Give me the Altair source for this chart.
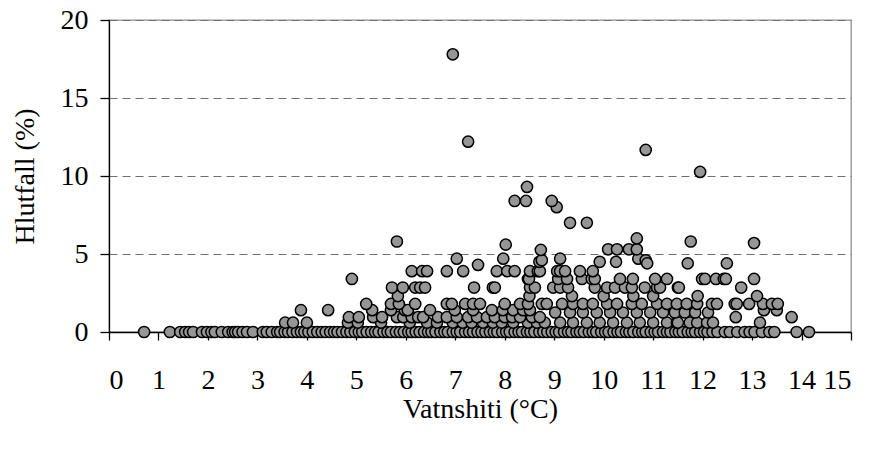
import altair as alt
import pandas as pd

# Water temperature (°C) of observations with zero loss
temp_zero = [0.71, 1.23, 1.44, 1.54, 1.62, 1.7, 1.88, 1.98, 2.07, 2.14, 2.28, 2.41, 2.5,
             2.55, 2.61, 2.7, 2.79, 2.91, 3.11, 3.19, 3.29, 3.4, 3.46, 3.55, 3.62, 3.71,
             3.8, 3.88, 3.95, 4.03, 4.12, 4.21, 4.3, 4.38, 4.47, 4.55, 4.62, 4.71, 4.8,
             4.88, 4.97, 5.05, 5.12, 5.21, 5.3, 5.38, 5.45, 5.55, 5.63, 5.7, 5.8, 5.88,
             5.96, 6.05, 6.12, 6.2, 6.28, 6.37, 6.45, 6.52, 6.6, 6.7, 6.78, 6.85, 6.95,
             7.03, 7.1, 7.2, 7.28, 7.36, 7.45, 7.53, 7.61, 7.7, 7.78, 7.85, 7.95, 8.03,
             8.1, 8.2, 8.28, 8.35, 8.45, 8.52, 8.6, 8.7, 8.78, 8.86, 8.95, 9.03, 9.1,
             9.2, 9.28, 9.35, 9.45, 9.52, 9.6, 9.7, 9.78, 9.85, 9.95, 10.03, 10.1, 10.2,
             10.28, 10.35, 10.45, 10.52, 10.6, 10.7, 10.78, 10.85, 10.95, 11.03, 11.1,
             11.2, 11.28, 11.35, 11.45, 11.52, 11.6, 11.7, 11.78, 11.85, 11.95, 12.03,
             12.1, 12.2, 12.3, 12.45, 12.55, 12.7, 12.85, 12.95, 13.05, 13.2, 13.35,
             13.45, 13.9, 14.15]

# Observations with low loss, grouped by loss level (%)
temp_06 = [3.56, 3.72, 4.0, 4.83, 5.03, 5.5, 6.08, 6.43, 6.63, 6.95, 7.15, 7.33, 7.56,
           7.76, 7.94, 8.17, 8.47, 8.65, 8.81, 9.12, 9.38, 9.66, 9.92, 10.19, 10.47,
           10.73, 11.0, 11.28, 11.48, 11.5, 11.74, 11.89, 12.09, 12.21, 13.16]
temp_09 = [4.85, 5.05, 5.34, 5.52, 5.82, 5.95, 6.12, 6.25, 6.35, 6.65, 6.83, 7.03, 7.26,
           7.44, 7.64, 7.8, 8.0, 8.15, 8.31, 8.55, 8.71, 12.67, 13.8]
temp_12 = [9.02, 9.32, 9.58, 9.86, 10.13, 10.39, 10.67, 10.94, 11.2, 11.44, 11.64,
           11.85, 12.11]
temp_14 = [3.88, 4.43, 5.32, 5.7, 5.98, 6.04, 6.49, 6.99, 7.36, 7.74, 7.96, 8.17, 8.37,
           8.51, 13.24, 13.5]
temp_18 = [5.2, 5.7, 5.86, 6.19, 6.83, 6.93, 7.2, 7.36, 7.5, 8.0, 8.31, 8.47, 8.75,
           8.85, 9.16, 9.38, 9.58, 9.78, 10.07, 10.27, 10.57, 10.77, 11.08, 11.28,
           11.48, 11.68, 11.89, 12.19, 12.29, 12.65, 12.69, 12.94, 13.22, 13.4, 13.52]
temp_23 = [5.84, 8.5, 9.36, 10.0, 10.6, 11.0, 11.9, 13.1]
temp_28 = [5.72, 5.94, 6.19, 6.29, 6.39, 7.38, 7.76, 7.8, 8.51, 8.61, 8.98, 9.12, 9.28,
           9.82, 10.07, 10.23, 10.43, 10.57, 10.83, 11.08, 11.14, 11.5, 11.52, 12.78]
temp_34 = [4.91, 8.47, 8.49, 9.08, 9.26, 9.56, 9.76, 9.82, 10.33, 10.59, 11.04, 11.28,
           11.99, 12.05, 12.27, 12.43, 12.47, 13.04]
temp_39 = [6.12, 6.33, 6.43, 6.83, 7.16, 7.84, 8.05, 8.2, 8.51, 8.67, 8.71, 9.06, 9.12,
           9.22, 9.52, 9.78]

loss_levels = [0.0, 0.6, 0.95, 1.25, 1.4, 1.8, 2.3, 2.85, 3.4, 3.9]

# Higher-loss observations, listed individually
temp_high = [7.03, 7.46, 7.97, 8.7, 8.75, 9.12, 9.92, 10.25, 10.7, 10.85, 10.88, 11.7,
             12.49, 8.73, 10.09, 10.27, 10.51, 10.67, 8.02, 5.82, 10.67, 11.76, 13.04,
             9.32, 9.66, 9.05, 8.2, 8.43, 8.95, 8.45, 11.95, 10.85, 7.26, 6.95]
loss_high = [4.7, 4.3, 4.7, 4.5, 4.6, 4.7, 4.5, 4.5, 4.7, 4.6, 4.4, 4.4,
             4.4, 5.26, 5.3, 5.3, 5.3, 5.3, 5.6, 5.8, 6.0, 5.8, 5.7,
             7.0, 7.0, 8.0, 8.4, 8.4, 8.4, 9.3, 10.26, 11.67, 12.2, 17.8]

low_groups = [temp_zero, temp_06, temp_09, temp_12, temp_14, temp_18, temp_23,
              temp_28, temp_34, temp_39]

records = []
for level, temps in zip(loss_levels, low_groups):
    records += [{"temp": t, "loss": level} for t in temps]
records += [{"temp": t, "loss": v} for t, v in zip(temp_high, loss_high)]
df = pd.DataFrame(records)

font = "Times New Roman, Liberation Serif, serif"

chart = alt.Chart(df).mark_point(
    shape="circle", filled=True, fill="#969696", stroke="#000000",
    strokeWidth=1.5, size=125, opacity=1
).encode(
    x=alt.X("temp:Q", scale=alt.Scale(domain=[0, 15], nice=False),
            axis=alt.Axis(title="Vatnshiti (°C)", values=list(range(16)),
                          grid=False, tickSize=8, tickColor="#000", domainColor="#000",
                          labelPadding=26, titlePadding=1)),
    y=alt.Y("loss:Q", scale=alt.Scale(domain=[0, 20], nice=False),
            axis=alt.Axis(title="Hlutfall (%)", values=[0, 5, 10, 15, 20],
                          grid=True, gridDash=[8, 5], gridColor="#707070",
                          gridWidth=1.2, tickSize=9, tickColor="#000",
                          domainColor="#000", labelPadding=12, titlePadding=21)),
).properties(
    width=742, height=312,
    autosize="none",
    padding={"left": 109, "top": 20, "right": 19, "bottom": 118},
).configure_axis(
    labelFont=font, titleFont=font, labelFontSize=28, titleFontSize=28,
    labelColor="#000", titleColor="#000", titleFontWeight="normal",
    domainWidth=1.3, tickWidth=1.3,
).configure_view(
    stroke="#909090", strokeWidth=1.3,
)

chart.save("out.html", embed_options={"renderer": "svg", "actions": False})
